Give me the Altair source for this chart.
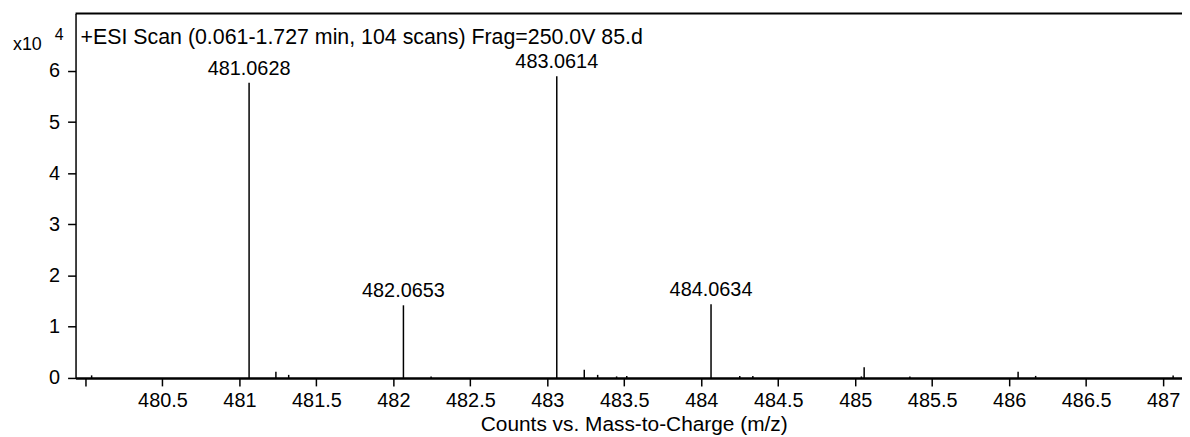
import altair as alt
import pandas as pd

# ---- data (m/z, counts) ----
mz = [480.04, 481.0628, 481.237, 481.32, 482.0653, 482.245, 483.0614, 483.24,
      483.327, 483.45, 483.516, 484.0634, 484.25, 484.335, 485.04, 485.058,
      485.355, 486.058, 486.172, 487.065]
counts = [500, 57700, 1200, 600, 14200, 300, 59000, 1600,
          600, 300, 400, 14400, 400, 400, 300, 2100,
          300, 1200, 400, 500]

label_mz = [481.0628, 482.0653, 483.0614, 484.0634]
label_counts = [57700, 14200, 59000, 14400]
label_text = ["481.0628", "482.0653", "483.0614", "484.0634"]

title_text = "+ESI Scan (0.061-1.727 min, 104 scans) Frag=250.0V 85.d"
x_title = "Counts vs. Mass-to-Charge (m/z)"
x_ticks = [480, 480.5, 481, 481.5, 482, 482.5, 483, 483.5, 484, 484.5,
           485, 485.5, 486, 486.5, 487]
y_ticks = [0, 10000, 20000, 30000, 40000, 50000, 60000]
x_domain = [479.9355, 487.1226]
y_domain = [0, 71260]

W, H = 1114, 367
FONT = "Liberation Sans"

peaks = pd.DataFrame({"mz": mz, "counts": counts})
labels = pd.DataFrame({"mz": label_mz, "counts": label_counts, "label": label_text})

xs = alt.Scale(domain=x_domain, nice=False, zero=False)
ys = alt.Scale(domain=y_domain, nice=False, zero=False)

x_axis = alt.Axis(
    values=x_ticks, format="~f",
    labelExpr="datum.value == 480 ? '' : datum.label",
    tickSize=8, tickColor="black", tickWidth=1.5,
    domainColor="black", domainWidth=2.5,
    labelFont=FONT, labelFontSize=20, labelColor="black", labelPadding=5,
    labelFlush=False, labelOverlap=False,
    title=x_title, titleFont=FONT, titleFontSize=21, titleFontWeight="normal",
    titleColor="black", titleX=562, titleY=53, titleBaseline="alphabetic",
    titleAlign="center", grid=False,
)
y_axis = alt.Axis(
    values=y_ticks, labelExpr="format(datum.value / 10000, 'd')",
    tickSize=8, tickColor="black", tickWidth=1.5,
    domainColor="black", domainWidth=1.5,
    labelFont=FONT, labelFontSize=20, labelColor="black", labelPadding=8,
    labelBaseline="middle",
    title=None, grid=False,
)

sticks = alt.Chart(peaks).mark_rule(color="black", strokeWidth=1.5).encode(
    x=alt.X("mz:Q", scale=xs, axis=x_axis),
    y=alt.Y("counts:Q", scale=ys, axis=y_axis),
    y2=alt.datum(0),
)

peak_labels = alt.Chart(labels).mark_text(
    font=FONT, fontSize=20, color="black", baseline="bottom", align="center", dy=-4
).encode(
    x=alt.X("mz:Q", scale=xs),
    y=alt.Y("counts:Q", scale=ys),
    text="label:N",
)

top_line = alt.Chart(pd.DataFrame({"a": [0]})).mark_rule(
    color="black", strokeWidth=2
).encode(x=alt.value(0), x2=alt.value(W), y=alt.value(0))

title_mark = alt.Chart(pd.DataFrame({"t": [title_text]})).mark_text(
    font=FONT, fontSize=21.5, color="black", align="left", baseline="alphabetic"
).encode(x=alt.value(5), y=alt.value(31), text="t:N")

x10_mark = alt.Chart(pd.DataFrame({"t": ["x10"]})).mark_text(
    font=FONT, fontSize=18, color="black", align="left", baseline="alphabetic"
).encode(x=alt.value(-63), y=alt.value(37), text="t:N")

exp_mark = alt.Chart(pd.DataFrame({"t": ["4"]})).mark_text(
    font=FONT, fontSize=16, color="black", align="left", baseline="alphabetic"
).encode(x=alt.value(-21), y=alt.value(27), text="t:N")

chart = alt.layer(
    sticks, peak_labels, top_line, title_mark, x10_mark, exp_mark
).properties(
    width=W, height=H,
    autosize=alt.AutoSizeParams(type="none"),
    padding={"left": 68, "top": 4, "right": 0, "bottom": 58},
    background="white",
).configure_view(stroke=None)

chart.save("out.html", embed_options={"renderer": "svg", "actions": False})
